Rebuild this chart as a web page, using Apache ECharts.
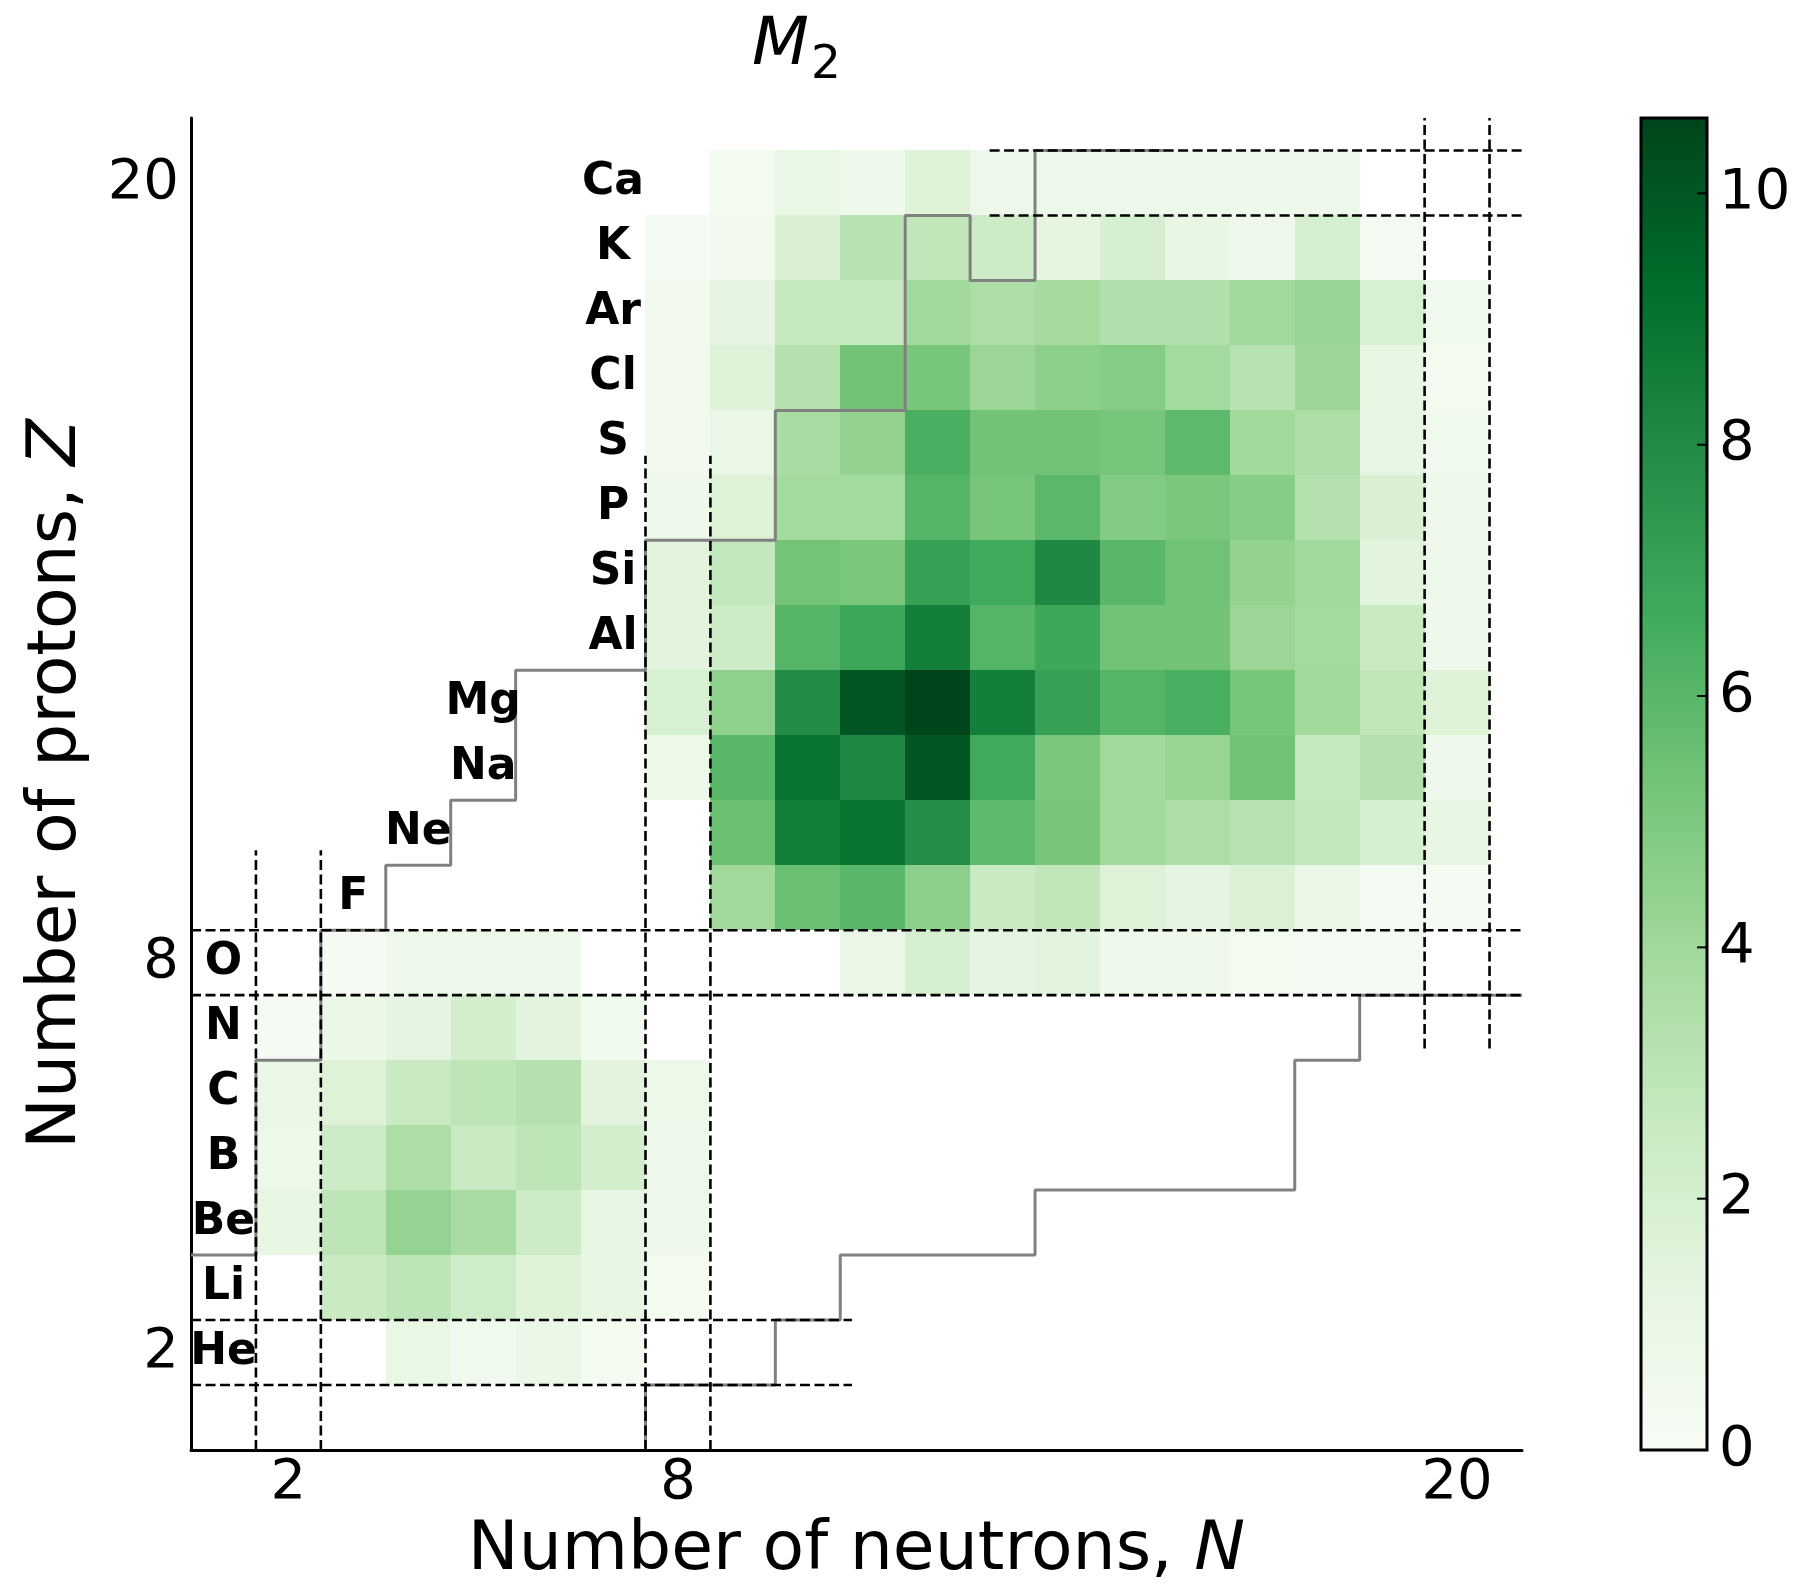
<!DOCTYPE html>
<html>
<head>
<meta charset="utf-8">
<script src="https://cdn.jsdelivr.net/npm/echarts@6/dist/echarts.min.js"></script>
<style>
html,body{margin:0;padding:0;background:#ffffff;}
#chart{width:1793px;height:1585px;}
</style>
</head>
<body>
<div id="chart"></div>
<script>
// ---------------- data ----------------
const _ = null;
// proton number of each row, its element symbol and the N at which the symbol is written
const Z_VALUES  = [2, 3, 4, 5, 6, 7, 8, 9, 10, 11, 12, 13, 14, 15, 16, 17, 18, 19, 20];
const ELEMENTS  = ['He','Li','Be','B','C','N','O','F','Ne','Na','Mg','Al','Si','P','S','Cl','Ar','K','Ca'];
const LABEL_N   = [1, 1, 1, 1, 1, 1, 1, 3, 4, 5, 5, 7, 7, 7, 7, 7, 7, 7, 7];

// M2 values, one array per Z, index 0 = N 1 ... index 19 = N 20
const Z2  = [_, _, _, 1.0, 0.5, 0.9, 0.25, _, _, _, _, _, _, _, _, _, _, _, _, _];
const Z3  = [_, _, 2.55, 2.95, 2.3, 1.6, 1.1, 0.3, _, _, _, _, _, _, _, _, _, _, _, _];
const Z4  = [_, 1.1, 2.95, 4.35, 3.7, 2.4, 1.2, 0.66, _, _, _, _, _, _, _, _, _, _, _, _];
const Z5  = [_, 0.74, 2.4, 3.6, 2.5, 2.95, 2.1, 0.66, _, _, _, _, _, _, _, _, _, _, _, _];
const Z6  = [_, 0.96, 1.7, 2.5, 2.95, 3.3, 1.4, 0.74, _, _, _, _, _, _, _, _, _, _, _, _];
const Z7  = [_, 0.15, 0.9, 1.25, 2.1, 1.4, 0.45, _, _, _, _, _, _, _, _, _, _, _, _, _];
const Z8  = [_, _, 0.15, 0.66, 0.66, 0.66, _, _, _, _, 0.96, 2.0, 1.25, 1.4, 0.66, 0.6, 0.3, 0.22, 0.22, _];
const Z9  = [_, _, _, _, _, _, _, _, 4.0, 5.55, 6.0, 4.55, 2.55, 2.9, 1.7, 1.25, 1.75, 0.9, 0.2, 0.15];
const Z10 = [_, _, _, _, _, _, _, _, 5.55, 8.5, 8.9, 7.85, 5.9, 5.15, 4.0, 3.6, 3.2, 2.8, 2.0, 1.1];
const Z11 = [_, _, _, _, _, _, _, 0.8, 6.0, 8.9, 8.1, 10.0, 6.7, 5.1, 4.0, 4.25, 5.4, 2.65, 3.3, 0.6];
const Z12 = [_, _, _, _, _, _, _, 1.9, 4.5, 7.9, 10.05, 10.6, 8.5, 7.07, 6.1, 6.45, 5.2, 3.95, 2.9, 1.6];
const Z13 = [_, _, _, _, _, _, _, 1.4, 2.4, 6.1, 6.8, 8.5, 6.1, 6.8, 5.35, 5.35, 4.15, 3.9, 2.5, 0.66];
const Z14 = [_, _, _, _, _, _, _, 1.4, 2.75, 5.3, 5.1, 7.07, 6.7, 8.1, 6.0, 5.4, 4.4, 3.95, 1.45, 0.66];
const Z15 = [_, _, _, _, _, _, _, 0.66, 1.7, 3.9, 3.9, 6.1, 5.2, 5.95, 4.85, 5.1, 4.75, 3.3, 1.85, 0.66];
const Z16 = [_, _, _, _, _, _, _, 0.4, 0.96, 3.7, 4.4, 6.4, 5.35, 5.35, 5.2, 5.9, 3.95, 3.55, 1.2, 0.5];
const Z17 = [_, _, _, _, _, _, _, 0.37, 1.7, 3.3, 5.35, 5.2, 4.15, 4.6, 4.8, 3.9, 3.2, 4.1, 1.1, 0.3];
const Z18 = [_, _, _, _, _, _, _, 0.37, 1.25, 2.65, 2.65, 4.0, 3.55, 3.84, 3.38, 3.38, 4.0, 4.24, 1.9, 0.5];
const Z19 = [_, _, _, _, _, _, _, 0.2, 0.35, 1.85, 3.2, 2.9, 2.4, 1.3, 2.0, 1.1, 0.7, 2.0, 0.15, _];
const Z20 = [_, _, _, _, _, _, _, _, 0.3, 1.0, 0.6, 1.6, 0.7, 0.7, 0.7, 0.7, 0.6, 0.7, _, _];
const ROWS = [Z2, Z3, Z4, Z5, Z6, Z7, Z8, Z9, Z10, Z11, Z12, Z13, Z14, Z15, Z16, Z17, Z18, Z19, Z20];

// staircase boundaries, [N, Z] corners
const PROTON_DRIP = [[0.5,3.5],[1.5,3.5],[1.5,6.5],[2.5,6.5],[2.5,8.5],[3.5,8.5],[3.5,9.5],[4.5,9.5],[4.5,10.5],[5.5,10.5],[5.5,12.5],[7.5,12.5],[7.5,14.5],[9.5,14.5],[9.5,16.5],[11.5,16.5],[11.5,19.5],[12.5,19.5],[12.5,18.5],[13.5,18.5],[13.5,20.5],[15.5,20.5]];
const NEUTRON_DRIP = [[7.5,0.5],[7.5,1.5],[9.5,1.5],[9.5,2.5],[10.5,2.5],[10.5,3.5],[13.5,3.5],[13.5,4.5],[17.5,4.5],[17.5,6.5],[18.5,6.5],[18.5,7.5],[21,7.5]];

// magic-number dashed guides, [[N,Z],[N,Z]]
const MAGIC_LINES = [
  [[1.5,0.5],[1.5,9.73]], [[2.5,0.5],[2.5,9.73]],
  [[7.5,0.5],[7.5,15.8]], [[8.5,0.5],[8.5,15.8]],
  [[19.5,6.68],[19.5,21]], [[20.5,6.68],[20.5,21]],
  [[0.5,1.5],[10.68,1.5]], [[0.5,2.5],[10.68,2.5]],
  [[0.5,7.5],[21,7.5]], [[0.5,8.5],[21,8.5]],
  [[12.8,19.5],[21,19.5]], [[12.8,20.5],[21,20.5]]
];

const X_TICKS = [2, 8, 20];
const Y_TICKS = [2, 8, 20];
const CBAR_TICKS = [0, 2, 4, 6, 8, 10];
const V_MIN = 0, V_MAX = 10.6;
const GREENS = ['#f7fcf5','#e5f5e0','#c7e9c0','#a1d99b','#74c476','#41ab5d','#238b45','#006d2c','#00441b'];

// ---------------- build ----------------
const cells = [];
ROWS.forEach((row, i) => {
  row.forEach((v, j) => { if (v !== null) cells.push([j + 1, Z_VALUES[i], v]); });
});
const labelData = ELEMENTS.map((e, i) => [LABEL_N[i], Z_VALUES[i]]);

const FONT = 'DejaVu Sans';

function renderCell(params, api) {
  const n = api.value(0), z = api.value(1);
  const a = api.coord([n - 0.5, z + 0.5]);
  const b = api.coord([n + 0.5, z - 0.5]);
  const x0 = Math.round(a[0]), y0 = Math.round(a[1]);
  const x1 = Math.round(b[0]), y1 = Math.round(b[1]);
  return {type: 'rect', shape: {x: x0, y: y0, width: x1 - x0, height: y1 - y0},
          style: {fill: api.visual('color')}};
}
function renderLabel(params, api) {
  const p = api.coord([api.value(0), api.value(1)]);
  return {type: 'text', x: p[0], y: p[1],
          style: {text: ELEMENTS[params.dataIndex], fontSize: 44, fontWeight: 'bold', fontFamily: FONT,
                  fill: '#000', align: 'center', verticalAlign: 'middle'}};
}
function renderBar(params, api) {
  const a = api.coord([0, V_MAX]);
  const b = api.coord([1, V_MIN]);
  const children = [{type: 'rect', shape: {x: a[0], y: a[1], width: b[0] - a[0], height: b[1] - a[1]},
          style: {fill: {type: 'linear', x: 0, y: 1, x2: 0, y2: 0,
                         colorStops: GREENS.map((c, i) => ({offset: i / (GREENS.length - 1), color: c}))},
                  stroke: '#000', lineWidth: 3}}];
  CBAR_TICKS.forEach(v => {
    const p = api.coord([1, v]);
    children.push({type: 'line', shape: {x1: p[0] - 10, y1: p[1], x2: p[0], y2: p[1]},
                   style: {stroke: '#000', lineWidth: 2}});
  });
  return {type: 'group', children: children};
}

const series = [
  {type: 'custom', name: 'M2', xAxisIndex: 0, yAxisIndex: 0, data: cells, renderItem: renderCell,
   dimensions: ['N','Z','M2'], encode: {x: 0, y: 1}, z: 1, silent: true, clip: true},
  {type: 'line', data: PROTON_DRIP, symbol: 'none', xAxisIndex: 0, yAxisIndex: 0, z: 3, silent: true, clip: true,
   lineStyle: {color: '#808080', width: 3}},
  {type: 'line', data: NEUTRON_DRIP, symbol: 'none', xAxisIndex: 0, yAxisIndex: 0, z: 3, silent: true, clip: true,
   lineStyle: {color: '#808080', width: 3}}
];
MAGIC_LINES.forEach(seg => series.push({
  type: 'line', data: seg, symbol: 'none', xAxisIndex: 0, yAxisIndex: 0, z: 4, silent: true, clip: true,
  lineStyle: {color: '#000', width: 2.6, type: [10, 4.5]}
}));
series.push({type: 'custom', data: labelData, renderItem: renderLabel, xAxisIndex: 0, yAxisIndex: 0,
             encode: {x: 0, y: 1}, z: 5, silent: true, clip: false});
series.push({type: 'custom', data: [[0, 0]], renderItem: renderBar, xAxisIndex: 1, yAxisIndex: 1,
             encode: {x: 0, y: 1}, z: 1, silent: true, clip: false});

const option = {
  animation: false,
  backgroundColor: '#ffffff',
  textStyle: {fontFamily: FONT},
  graphic: [
    {type: 'text', x: 752, y: 80, silent: true,
     style: {text: 'M', fontSize: 66, fontStyle: 'italic', fontWeight: 'normal', fontFamily: FONT,
             fill: '#000', align: 'left', verticalAlign: 'bottom'}},
    {type: 'text', x: 811, y: 89, silent: true,
     style: {text: '2', fontSize: 47, fontWeight: 'normal', fontFamily: FONT,
             fill: '#000', align: 'left', verticalAlign: 'bottom'}}
  ],
  visualMap: {type: 'continuous', show: false, min: V_MIN, max: V_MAX, dimension: 2, seriesIndex: 0,
              inRange: {color: GREENS}},
  grid: [
    {left: 191, top: 118, width: 1331, height: 1332, outerBoundsMode: 'none', containLabel: false},
    {left: 1641, top: 118, width: 66, height: 1332, outerBoundsMode: 'none', containLabel: false}
  ],
  xAxis: [
    {type: 'value', gridIndex: 0, min: 0.5, max: 21,
     axisLine: {show: true, onZero: false, lineStyle: {color: '#000', width: 3}},
     axisTick: {show: false}, splitLine: {show: false},
     axisLabel: {customValues: X_TICKS, fontSize: 56, color: '#000', margin: 5, fontFamily: FONT},
     name: 'Number of neutrons, {i|N}', nameLocation: 'middle', nameGap: 67, nameMoveOverlap: false,
     nameTextStyle: {fontSize: 68, color: '#000', fontFamily: FONT,
                     rich: {i: {fontSize: 68, fontStyle: 'italic', color: '#000', fontFamily: FONT}}}},
    {type: 'value', gridIndex: 1, min: 0, max: 1, show: false}
  ],
  yAxis: [
    {type: 'value', gridIndex: 0, min: 0.5, max: 21,
     axisLine: {show: true, onZero: false, lineStyle: {color: '#000', width: 3}},
     axisTick: {show: false}, splitLine: {show: false},
     axisLabel: {customValues: Y_TICKS, fontSize: 56, color: '#000', margin: 12, fontFamily: FONT},
     name: 'Number of protons, {i|Z}', nameLocation: 'middle', nameGap: 100, nameMoveOverlap: false,
     nameTextStyle: {fontSize: 68, color: '#000', fontFamily: FONT,
                     rich: {i: {fontSize: 68, fontStyle: 'italic', color: '#000', fontFamily: FONT}}}},
    {type: 'value', gridIndex: 1, min: V_MIN, max: V_MAX, position: 'right', z: 10,
     axisLine: {show: false}, splitLine: {show: false},
     axisTick: {show: false},
     axisLabel: {customValues: CBAR_TICKS, fontSize: 56, color: '#000', margin: 12, fontFamily: FONT}}
  ],
  series: series
};

const chart = echarts.init(document.getElementById('chart'), null, {renderer: 'canvas'});
chart.setOption(option);
</script>
</body>
</html>
